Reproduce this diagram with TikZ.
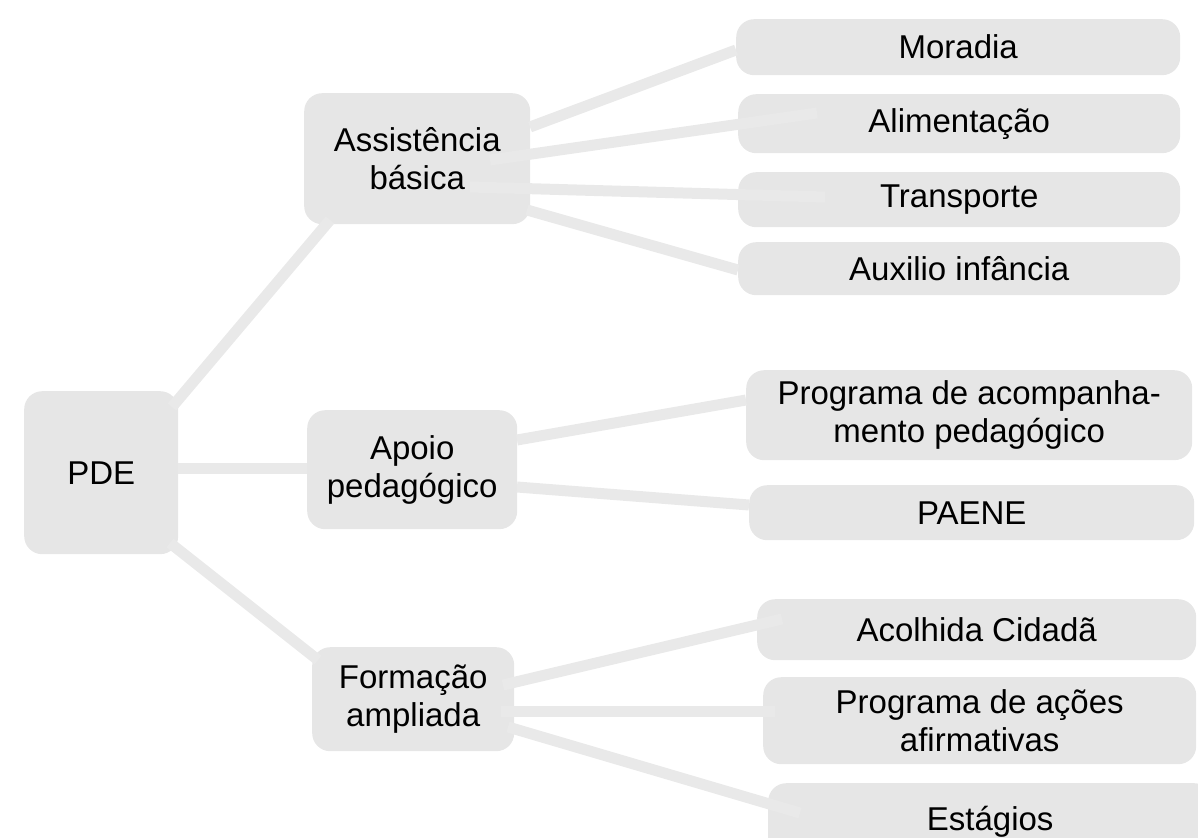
\documentclass[tikz,border=0pt]{standalone}
\usepackage{fontspec}
\setmainfont{Liberation Sans}
\begin{document}
\begin{tikzpicture}[x=1pt,y=-1pt,
  box/.style={anchor=north west, fill=boxgray, draw=none, rounded corners=18pt,
    align=center, inner sep=0pt, text=black,
    font=\fontsize{33}{38}\selectfont},
  link/.style={draw=linegray, line width=11pt}]
\definecolor{boxgray}{HTML}{E6E6E6}
\definecolor{linegray}{HTML}{E9E9E9}
\useasboundingbox (0,0) rectangle (1198,837);
% nodes
\node[box, minimum width=154pt, minimum height=163pt] (pde) at (24,391) {PDE};
\node[box, minimum width=226pt, minimum height=131pt] (assist) at (304,93) {Assistência\\básica};
\node[box, minimum width=210pt, minimum height=119pt] (apoio) at (307,410) {Apoio\\pedagógico};
\node[box, minimum width=202pt, minimum height=104pt] (form) at (312,647) {Formação\\ampliada};
\node[box, minimum width=444pt, minimum height=56pt] (moradia) at (736,19) {Moradia};
\node[box, minimum width=442pt, minimum height=59pt] (alim) at (738,94) {Alimentação};
\node[box, minimum width=442pt, minimum height=55pt] (transp) at (738,172) {Transporte};
\node[box, minimum width=442pt, minimum height=53pt] (aux) at (738,242) {Auxilio infância};
\node[box, minimum width=446pt, minimum height=90pt] (prog) at (746,370) {Programa de acompanha-\\mento pedagógico};
\node[box, minimum width=445pt, minimum height=55pt] (paene) at (749,485) {PAENE};
\node[box, minimum width=439pt, minimum height=61pt] (acolhida) at (757,599) {Acolhida Cidadã};
\node[box, minimum width=433pt, minimum height=87pt] (acoes) at (763,677) {Programa de ações\\afirmativas};
\node[box, minimum width=444pt, minimum height=78pt] (estagios) at (768,783) {Estágios};
% connectors
\draw[link] ([shift={(148,16)}]pde.north west) -- ([shift={(26,127)}]assist.north west);
\draw[link] ([shift={(154,77)}]pde.north west) -- ([shift={(0,58)}]apoio.north west);
\draw[link] ([shift={(146,152)}]pde.north west) -- ([shift={(6,13)}]form.north west);
\draw[link] ([shift={(226,34)}]assist.north west) -- ([shift={(0,31)}]moradia.north west);
\draw[link] ([shift={(186,67)}]assist.north west) -- ([shift={(79,19)}]alim.north west);
\draw[link] ([shift={(166,94)}]assist.north west) -- ([shift={(87,25)}]transp.north west);
\draw[link] ([shift={(223,117)}]assist.north west) -- ([shift={(0,28)}]aux.north west);
\draw[link] ([shift={(210,30)}]apoio.north west) -- ([shift={(0,30)}]prog.north west);
\draw[link] ([shift={(210,77)}]apoio.north west) -- ([shift={(0,20)}]paene.north west);
\draw[link] ([shift={(191,38)}]form.north west) -- ([shift={(25,20)}]acolhida.north west);
\draw[link] ([shift={(189,64)}]form.north west) -- ([shift={(12,34)}]acoes.north west);
\draw[link] ([shift={(196,80)}]form.north west) -- ([shift={(32,30)}]estagios.north west);
\end{tikzpicture}
\end{document}
